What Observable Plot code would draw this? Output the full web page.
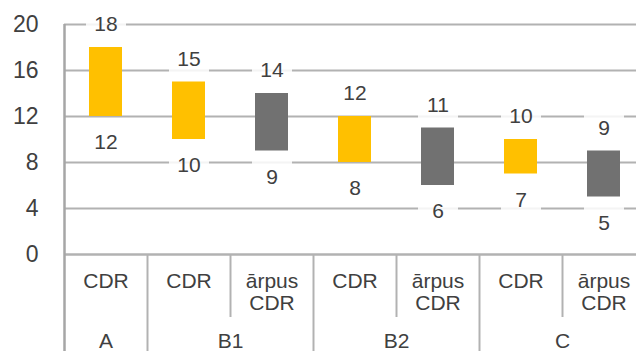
<!DOCTYPE html>
<html><head><meta charset="utf-8">
<script src="https://cdn.jsdelivr.net/npm/d3@7"></script>
<script src="https://cdn.jsdelivr.net/npm/@observablehq/plot@0.6"></script>
<style>
body{margin:0;background:#fff;overflow:hidden}
#chart svg{display:block}
</style>
</head><body><div id="chart"></div>
<script>
// ---- data ----
const groups    = ["A", "B1", "B1", "B2", "B2", "C", "C"];
const subLabels = ["CDR", "CDR", "ārpus\nCDR", "CDR", "ārpus\nCDR", "CDR", "ārpus\nCDR"];
const types     = ["CDR", "CDR", "ārpus", "CDR", "ārpus", "CDR", "ārpus"];
const lows      = [12, 10, 9, 8, 6, 7, 5];
const highs     = [18, 15, 14, 12, 11, 10, 9];
const groupNames = ["A", "B1", "B2", "C"];
const yTicks    = [0, 4, 8, 12, 16, 20];

const data = groups.map((g, i) => ({key: i, group: g, label: subLabels[i], type: types[i], low: lows[i], high: highs[i]}));
const groupData = groupNames.map(g => {
  const members = data.filter(d => d.group === g);
  return {group: g, first: members[0].key, n: members.length};
});
const firstKeys = new Set(groupData.map(g => g.first));

// ---- layout ----
const W = 636, H = 351;
const xRange = [64, 645];
const bw = (xRange[1] - xRange[0]) / data.length;
const mTop = 24, mBottom = 97;
const frameH = H - mTop - mBottom;
const gray = "#b2b2b2";
const axisGray = "#a6a6a6";
const textColor = "#404040";
const font = "'Liberation Sans', Arial, sans-serif";

const boxSymbol = {draw(ctx) { ctx.rect(-20, -16, 40, 32); }};

const plot = Plot.plot({
  width: W, height: H,
  marginTop: mTop, marginBottom: mBottom, marginLeft: 64, marginRight: 0,
  style: {fontFamily: font, color: textColor, background: "#fff", overflow: "hidden"},
  x: {type: "band", domain: data.map(d => d.key), range: xRange, padding: 0, axis: null},
  y: {domain: [0, 20], axis: null},
  color: {domain: ["CDR", "ārpus"], range: ["#FFC000", "#717171"]},
  marks: [
    Plot.ruleY(yTicks, {stroke: gray, strokeWidth: 2}),
    Plot.axisY({ticks: yTicks, tickSize: 0, tickPadding: 26, fontSize: 23, fill: textColor}),
    // label background boxes
    Plot.dot(data, {x: "key", y: "high", dy: -23, symbol: boxSymbol, r: 1, fill: "white", fillOpacity: 0.85, stroke: null}),
    Plot.dot(data, {x: "key", y: "low", dy: 26, symbol: boxSymbol, r: 1, fill: "white", fillOpacity: 0.85, stroke: null}),
    // floating bars
    Plot.barY(data, {x: "key", y1: "low", y2: "high", fill: "type", insetLeft: 25, insetRight: 25}),
    // data labels
    Plot.text(data, {x: "key", y: "high", text: d => String(d.high), dy: -23, fontSize: 21, fill: textColor}),
    Plot.text(data, {x: "key", y: "low", text: d => String(d.low), dy: 26, fontSize: 21, fill: textColor}),
    // x baseline
    Plot.ruleY([0], {stroke: gray, strokeWidth: 2}),
    // left border (plot area + category area)
    Plot.ruleX(data.filter(d => d.key === 0), {x: "key", dx: -bw / 2, stroke: axisGray, strokeWidth: 2.5, insetBottom: -mBottom}),
    // category separators
    Plot.ruleX(data.filter(d => d.key !== 0 && firstKeys.has(d.key)), {x: "key", dx: -bw / 2, stroke: gray, strokeWidth: 2, insetTop: frameH, insetBottom: -mBottom}),
    Plot.ruleX(data.filter(d => !firstKeys.has(d.key)), {x: "key", dx: -bw / 2, stroke: gray, strokeWidth: 2, insetTop: frameH, insetBottom: -63}),
    // category labels
    Plot.text(data, {x: "key", text: "label", frameAnchor: "bottom", lineAnchor: "top", dy: 18, lineHeight: 1.05, fontSize: 21, fill: textColor}),
    Plot.text(groupData.filter(g => g.n === 1), {x: "first", text: "group", frameAnchor: "bottom", lineAnchor: "top", dy: 79, fontSize: 21, fill: textColor}),
    Plot.text(groupData.filter(g => g.n === 2), {x: "first", text: "group", frameAnchor: "bottom", lineAnchor: "top", dy: 79, dx: bw / 2, fontSize: 21, fill: textColor})
  ]
});
document.getElementById("chart").appendChild(plot);
</script>
</body></html>
